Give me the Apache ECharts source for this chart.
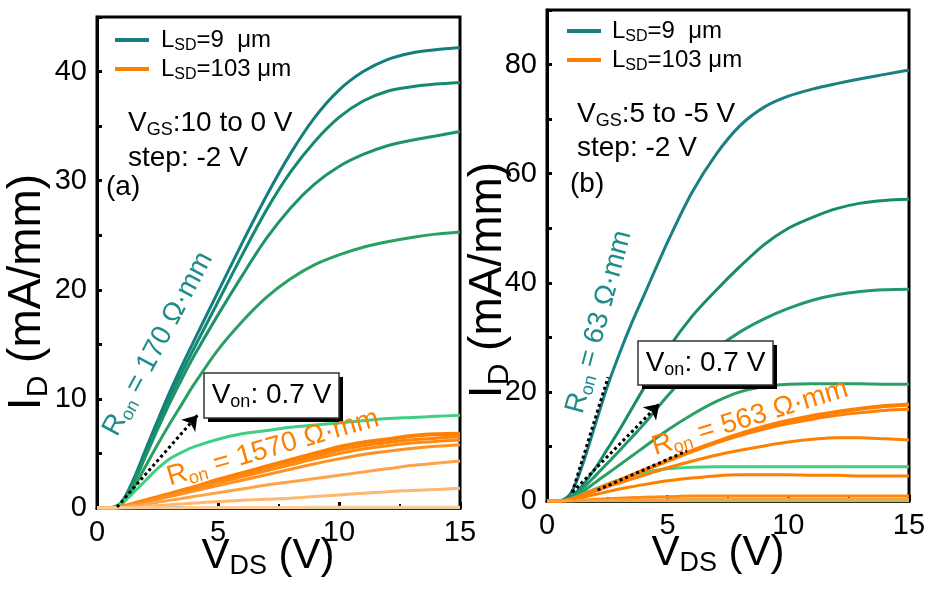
<!DOCTYPE html>
<html>
<head>
<meta charset="utf-8">
<script src="https://cdn.jsdelivr.net/npm/echarts@6/dist/echarts.min.js"></script>
<style>
  html, body { margin: 0; padding: 0; background: #fff; }
  #chart { width: 948px; height: 589px; }
</style>
</head>
<body>
<div id="chart"></div>
<script>
  var FONT = "'Liberation Sans', Arial, sans-serif";

  // drain voltage samples shared by every curve (V)
  var vds = [0, 0.5, 1, 1.5, 2, 2.5, 3, 3.5, 4, 5, 6, 7, 8, 9, 10, 11, 12, 13, 14, 15];

  // (a) VGS 10 .. 0 V, LSD = 9 um (mA/mm)
  var a9_10 = [0, 0, 0.5, 2.6, 5.3, 8.0, 10.6, 13.0, 15.3, 19.8, 24.3, 28.6, 32.5, 35.8, 38.3, 40.0, 41.1, 41.7, 42.0, 42.2];
  var a9_8  = [0, 0, 0.45, 2.4, 5.0, 7.6, 10.1, 12.4, 14.6, 18.9, 23.2, 27.3, 30.8, 33.6, 35.8, 37.3, 38.2, 38.6, 38.85, 39.0];
  var a9_6  = [0, 0, 0.4, 2.2, 4.7, 7.2, 9.6, 11.8, 13.9, 17.7, 21.3, 24.7, 27.5, 29.7, 31.3, 32.4, 33.2, 33.7, 34.1, 34.5];
  var a9_4  = [0, 0, 0.3, 1.8, 3.8, 5.8, 7.7, 9.5, 11.3, 14.5, 17.1, 19.3, 21.0, 22.3, 23.2, 23.9, 24.4, 24.8, 25.1, 25.3];
  var a9_2  = [0, 0, 0.4, 1.4, 2.5, 3.6, 4.5, 5.1, 5.6, 6.3, 6.8, 7.1, 7.4, 7.6, 7.8, 8.0, 8.2, 8.3, 8.4, 8.5];
  var a9_0  = [0, 0, 0, 0, 0, 0, 0, 0, 0, 0, 0, 0, 0, 0, 0, 0, 0, 0, 0, 0];

  // (a) LSD = 103 um
  var a103_1 = [0, 0, 0.1, 0.4, 0.7, 1.0, 1.3, 1.6, 1.9, 2.6, 3.2, 3.8, 4.4, 5.0, 5.6, 6.0, 6.3, 6.6, 6.75, 6.8];
  var a103_2 = [0, 0, 0.1, 0.35, 0.65, 0.95, 1.25, 1.55, 1.85, 2.45, 3.05, 3.65, 4.2, 4.75, 5.3, 5.7, 6.0, 6.25, 6.4, 6.5];
  var a103_3 = [0, 0, 0.1, 0.33, 0.6, 0.88, 1.15, 1.42, 1.7, 2.3, 2.85, 3.4, 3.95, 4.5, 5.0, 5.4, 5.7, 5.95, 6.1, 6.2];
  var a103_4 = [0, 0, 0.1, 0.3, 0.55, 0.8, 1.05, 1.3, 1.55, 2.05, 2.55, 3.05, 3.55, 4.05, 4.5, 4.9, 5.2, 5.45, 5.65, 5.8];
  var a103_5 = [0, 0, 0.05, 0.2, 0.35, 0.52, 0.7, 0.87, 1.05, 1.4, 1.75, 2.1, 2.4, 2.7, 3.0, 3.3, 3.6, 3.9, 4.1, 4.3];
  var a103_6 = [0, 0, 0.02, 0.08, 0.15, 0.22, 0.3, 0.37, 0.45, 0.6, 0.7, 0.8, 0.9, 1.05, 1.2, 1.35, 1.5, 1.6, 1.7, 1.8];
  var a103_7 = [0, 0, 0, 0.01, 0.02, 0.02, 0.03, 0.03, 0.04, 0.04, 0.05, 0.05, 0.05, 0.06, 0.06, 0.06, 0.07, 0.07, 0.07, 0.08];

  // (b) VGS 5 .. -5 V, LSD = 9 um
  var b9_5  = [0, 0, 1.5, 7, 14, 21, 27, 32.5, 37.5, 47.5, 56.5, 63.5, 68.8, 72.2, 74.2, 75.5, 76.5, 77.4, 78.2, 79.0];
  var b9_3  = [0, 0, 0.8, 3, 6, 9.5, 13, 16.8, 20.6, 27.8, 33.8, 38.6, 43, 47, 50, 52, 53.6, 54.6, 55.1, 55.3];
  var b9_1  = [0, 0, 0.6, 2.4, 4.6, 6.9, 9.2, 11.6, 14.0, 19.3, 24.0, 27.9, 31.0, 33.4, 35.3, 36.8, 37.8, 38.4, 38.7, 38.8];
  var b9_m1 = [0, 0, 0.5, 1.8, 3.4, 5.0, 6.6, 8.2, 9.8, 13.0, 15.8, 18.2, 20.0, 21.0, 21.4, 21.5, 21.5, 21.5, 21.4, 21.4];
  var b9_m3 = [0, 0, 0.4, 1.3, 2.2, 3.1, 3.9, 4.6, 5.2, 5.9, 6.2, 6.3, 6.3, 6.3, 6.3, 6.3, 6.3, 6.3, 6.3, 6.3];
  var b9_m5 = [0, 0, 0, 0, 0, 0, 0, 0, 0, 0, 0, 0, 0, 0, 0, 0, 0, 0, 0, 0];

  // (b) LSD = 103 um
  var b103_1 = [0, 0, 0.3, 1.1, 2.0, 2.9, 3.8, 4.7, 5.6, 7.4, 9.2, 10.8, 12.3, 13.6, 14.7, 15.6, 16.3, 16.9, 17.4, 17.7];
  var b103_2 = [0, 0, 0.3, 1.1, 2.0, 2.9, 3.8, 4.7, 5.6, 7.3, 9.0, 10.6, 12.0, 13.2, 14.2, 15.0, 15.7, 16.2, 16.6, 16.8];
  var b103_3 = [0, 0, 0.3, 1.0, 1.8, 2.6, 3.3, 4.0, 4.7, 6.1, 7.3, 8.4, 9.3, 10.1, 10.8, 11.3, 11.6, 11.6, 11.4, 11.2];
  var b103_4 = [0, 0, 0.2, 0.7, 1.2, 1.7, 2.2, 2.6, 3.0, 3.7, 4.2, 4.6, 4.8, 4.8, 4.8, 4.7, 4.7, 4.6, 4.6, 4.6];
  var b103_5 = [0, 0, 0.05, 0.15, 0.3, 0.4, 0.5, 0.6, 0.7, 0.8, 0.9, 0.9, 0.9, 0.9, 0.9, 0.9, 0.9, 0.9, 0.9, 0.9];
  var b103_6 = [0, 0, 0.02, 0.05, 0.1, 0.12, 0.15, 0.18, 0.2, 0.25, 0.3, 0.3, 0.3, 0.3, 0.3, 0.3, 0.3, 0.3, 0.3, 0.3];

  // dotted guide lines [start, end] in (V, mA/mm)
  var arrowA = [[0.83, 0.1], [4.15, 8.5]];
  var fitTealB = [[1.04, 1.5], [2.53, 22.7]];
  var arrowB = [[1.05, 1.6], [4.65, 17.8]];
  var fitOrangeB = [[2.1, 2.0], [5.8, 9.2]];

  var L9 = "L9", L103 = "L103";
  var TEAL = "#177f7f", ORANGE = "#ff7f00";

  function curve(name, vals, color, width, idx) {
    return {
      type: "line", name: name, xAxisIndex: idx, yAxisIndex: idx,
      data: vds.map(function (v, i) { return [v, vals[i]]; }),
      smooth: 0.3, showSymbol: false, symbol: "none",
      lineStyle: { color: color, width: width }, itemStyle: { color: color },
      silent: true
    };
  }

  function dotted(pair, arrow) {
    var end = { coord: pair[1] };
    if (arrow) { end.symbol = "arrow"; end.symbolSize = 14; }
    return [{ coord: pair[0], symbol: "none" }, end];
  }

  var series = [
    curve(L9, a9_10, "#137e7e", 3, 0),
    curve(L9, a9_8, "#138a70", 3, 0),
    curve(L9, a9_6, "#1c9468", 3, 0),
    curve(L9, a9_4, "#2a9f64", 3, 0),
    curve(L9, a9_2, "#3fcf82", 3, 0),
    curve(L9, a9_0, "#5fdc9c", 3, 0),
    curve(L103, a103_1, "#ff7f00", 4, 0),
    curve(L103, a103_2, "#ff8408", 3, 0),
    curve(L103, a103_3, "#ff8a14", 3, 0),
    curve(L103, a103_4, "#ff9124", 3, 0),
    curve(L103, a103_5, "#ffa347", 3, 0),
    curve(L103, a103_6, "#ffb870", 3, 0),
    curve(L103, a103_7, "#ffcc99", 3, 0),
    curve(L9, b9_5, "#1b8080", 3, 1),
    curve(L9, b9_3, "#178c6c", 3, 1),
    curve(L9, b9_1, "#239868", 3, 1),
    curve(L9, b9_m1, "#2c9f66", 3, 1),
    curve(L9, b9_m3, "#45cf86", 3, 1),
    curve(L9, b9_m5, "#66dd9e", 3, 1),
    curve(L103, b103_1, "#ff7f00", 4, 1),
    curve(L103, b103_2, "#ff7f00", 3, 1),
    curve(L103, b103_3, "#ff7f00", 3, 1),
    curve(L103, b103_4, "#ff8000", 3, 1),
    curve(L103, b103_5, "#ff8a10", 3, 1),
    curve(L103, b103_6, "#ffa040", 3, 1)
  ];

  var guideStyle = { color: "#000", type: "dotted", width: 3 };
  series[12].markLine = {
    silent: true, animation: false, symbol: "none", label: { show: false },
    lineStyle: guideStyle, data: [dotted(arrowA, true)]
  };
  series[24].markLine = {
    silent: true, animation: false, symbol: "none", label: { show: false },
    lineStyle: guideStyle,
    data: [dotted(fitTealB, false), dotted(arrowB, true), dotted(fitOrangeB, false)]
  };

  function xAxisFor(idx) {
    return {
      gridIndex: idx, type: "value", min: 0, max: 15, interval: 5,
      axisLine: { show: true, lineStyle: { color: "#000", width: 3 } },
      axisTick: { show: true, inside: true, length: 6, lineStyle: { color: "#000", width: 3 } },
      minorTick: { show: true, splitNumber: 2, length: 4, lineStyle: { color: "#000", width: 2 } },
      axisLabel: { fontSize: 29, color: "#000", fontFamily: FONT, margin: 10 },
      splitLine: { show: false }
    };
  }
  function yAxisFor(idx, max, step, labelEvery) {
    return {
      gridIndex: idx, type: "value", min: 0, max: max, interval: step,
      axisLine: { show: true, lineStyle: { color: "#000", width: 3 } },
      axisTick: { show: true, inside: true, length: 5, lineStyle: { color: "#000", width: 3 } },
      axisLabel: {
        fontSize: 29, color: "#000", fontFamily: FONT, margin: 10,
        formatter: function (v) { return v % labelEvery === 0 ? String(v) : ""; }
      },
      splitLine: { show: false }
    };
  }

  function rich(size, color) {
    var sub = Math.round(size * 0.65);
    return {
      a: { fontSize: size, fontFamily: FONT, color: color, lineHeight: size + 4 },
      s: { fontSize: sub, fontFamily: FONT, color: color, lineHeight: sub, padding: [Math.round(size * 0.5), 0, 0, 0] }
    };
  }

  function label(text, x, y, size, color, deg, align, vAlign) {
    return {
      type: "text", x: x, y: y, rotation: (deg || 0) * Math.PI / 180, z: 100,
      style: {
        text: text, rich: rich(size, color), fill: color,
        fontSize: size, fontFamily: FONT,
        align: align || "center", verticalAlign: vAlign || "middle",
        textAlign: align || "center", textVerticalAlign: vAlign || "middle"
      }
    };
  }

  function vonBox(x, y, w, h) {
    return [
      { type: "rect", z: 99, shape: { x: x + 4, y: y + 4, width: w, height: h }, style: { fill: "#000" } },
      { type: "rect", z: 99, shape: { x: x, y: y, width: w, height: h }, style: { fill: "#fff", stroke: "#333", lineWidth: 1.5 } },
      label("{a|V}{s|on}{a|: 0.7 V}", x + w / 2, y + h / 2, 28, "#000")
    ];
  }

  function legendFor(left, top, pad) {
    return {
      orient: "vertical", left: left, top: top, itemWidth: 34, itemHeight: 4, itemGap: 1,
      icon: "rect", selectedMode: false,
      data: [{ name: L9, itemStyle: { color: TEAL } }, { name: L103, itemStyle: { color: ORANGE } }],
      formatter: function (n) {
        return n === L9 ? "{p|L}{s|SD}{a|=9  \u03bcm}" : "{p|L}{s|SD}{a|=103 \u03bcm}";
      },
      textStyle: {
        rich: Object.assign(rich(24, "#000"), {
          p: { fontSize: 24, fontFamily: FONT, color: "#000", lineHeight: 28, padding: [0, 0, 0, pad] }
        })
      }
    };
  }

  var graphics = [
    label("{a|I}{s|D}{a| (mA/mm)}", 27, 292, 46, "#000", 90),
    label("{a|V}{s|DS}{a| (V)}", 268, 556, 42, "#000"),
    label("{a|I}{s|D}{a| (mA/mm)}", 488, 280, 46, "#000", 90),
    label("{a|V}{s|DS}{a| (V)}", 718, 553, 42, "#000"),
    label("{a|V}{s|GS}{a|:10 to 0 V}", 128, 107, 28, "#000", 0, "left", "top"),
    label("{a|step: -2 V}", 128, 142, 28, "#000", 0, "left", "top"),
    label("{a|(a)}", 106, 171, 28, "#000", 0, "left", "top"),
    label("{a|V}{s|GS}{a|:5 to -5 V}", 577, 98, 28, "#000", 0, "left", "top"),
    label("{a|step: -2 V}", 577, 132, 28, "#000", 0, "left", "top"),
    label("{a|(b)}", 570, 168, 28, "#000", 0, "left", "top"),
    label("{a|R}{s|on}{a| = 170 \u03a9\u00b7mm}", 158, 344, 28, "#1e8c8a", 62),
    label("{a|R}{s|on}{a| = 1570 \u03a9\u00b7mm}", 273, 448, 28, "#ff8000", 16),
    label("{a|R}{s|on}{a| = 63 \u03a9\u00b7mm}", 599, 322, 28, "#1e8c8a", 75),
    label("{a|R}{s|on}{a| = 563 \u03a9\u00b7mm}", 750, 418, 28, "#ff8000", 17)
  ].concat(vonBox(204, 373, 135, 45)).concat(vonBox(638, 341, 135, 44));

  var option = {
    animation: false,
    backgroundColor: "#fff",
    grid: [
      { left: 97, top: 17, width: 363, height: 491, show: true, borderColor: "#000", borderWidth: 3 },
      { left: 547, top: 10, width: 362, height: 491, show: true, borderColor: "#000", borderWidth: 3 }
    ],
    xAxis: [xAxisFor(0), xAxisFor(1)],
    yAxis: [yAxisFor(0, 45, 5, 10), yAxisFor(1, 90, 10, 20)],
    legend: [legendFor(110, 21, 7), legendFor(562, 12, 6)],
    series: series,
    graphic: { elements: graphics }
  };

  var chart = echarts.init(document.getElementById("chart"));
  chart.setOption(option);
</script>
</body>
</html>
